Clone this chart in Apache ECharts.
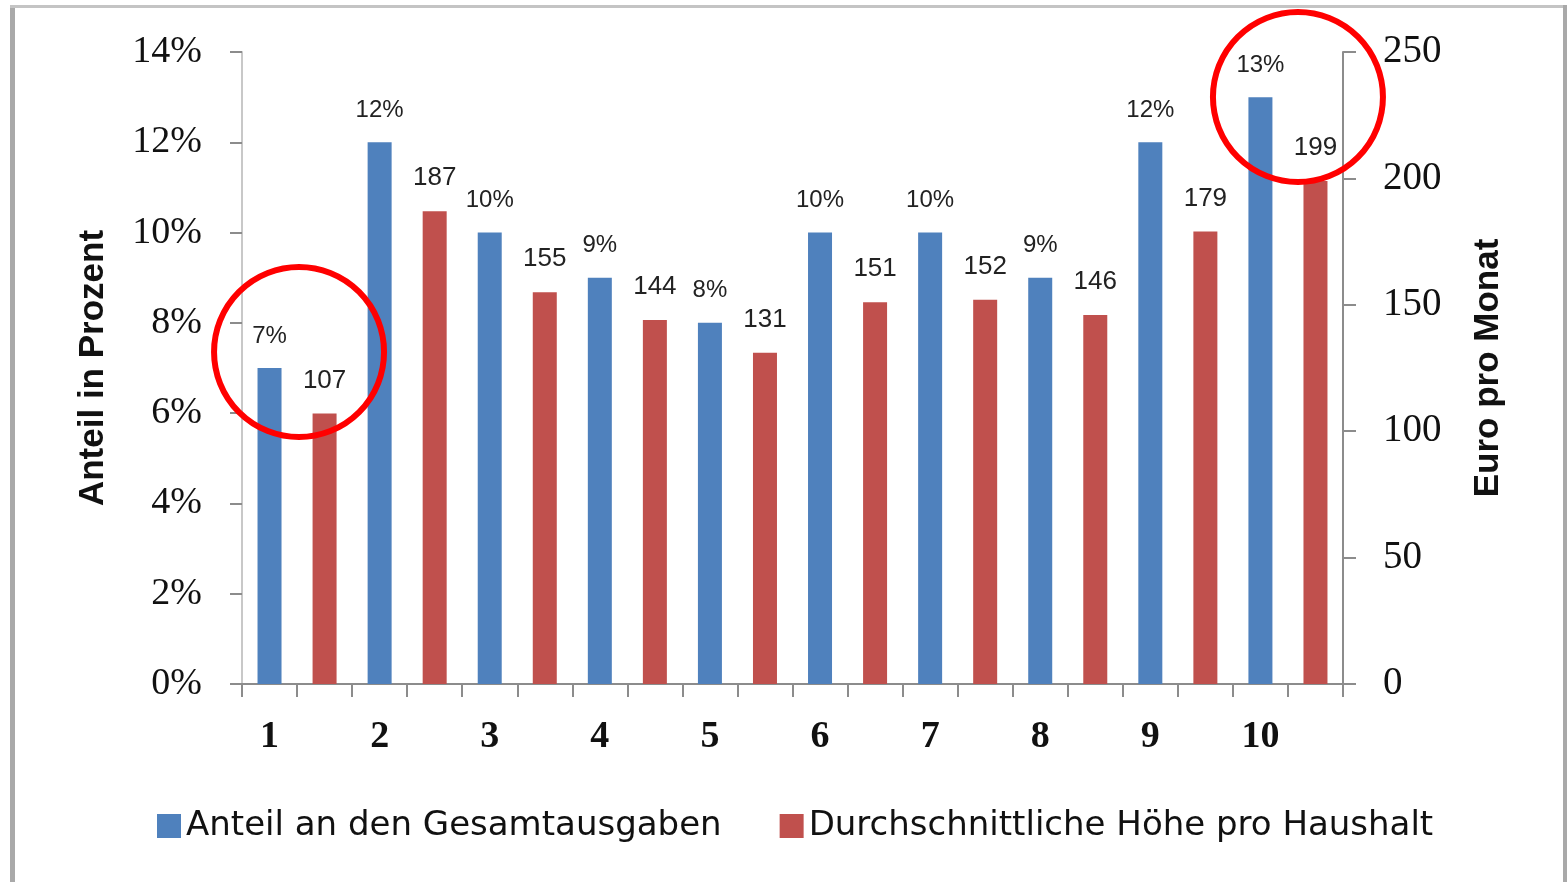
<!DOCTYPE html>
<html>
<head>
<meta charset="utf-8">
<script src="https://cdn.jsdelivr.net/npm/echarts@6/dist/echarts.min.js"></script>
<style>
  html, body { margin: 0; padding: 0; background: #fff; }
  #chart { width: 1567px; height: 882px; }
</style>
</head>
<body>
<div id="chart"></div>
<script>
// groups 1..10, each group has a blue slot and a red slot on the x axis
var groups = ['1', '2', '3', '4', '5', '6', '7', '8', '9', '10'];
var anteil = [7, 12, 10, 9, 8, 10, 10, 9, 12, 13];          // Anteil an den Gesamtausgaben, %
var hoehe = [107, 187, 155, 144, 131, 151, 152, 146, 179, 199]; // Euro pro Monat
var leftTicks = [0, 14, 2];   // min, max, interval
var rightTicks = [0, 250, 50];

var slots = [], blueData = [], redData = [];
groups.forEach(function (g, i) {
    slots.push(g, '');
    blueData.push(anteil[i], '-');
    redData.push('-', hoehe[i]);
});

var chart = echarts.init(document.getElementById('chart'));

var labelFont = 'Liberation Sans';
var tickFont = 'Liberation Serif';

var option = {
    animation: false,
    grid: { left: 242, right: 224, top: 52, bottom: 198 },
    legend: {
        left: 152,
        top: 804,
        itemWidth: 24,
        itemHeight: 24,
        itemGap: 58,
        icon: 'rect',
        textStyle: { fontFamily: 'DejaVu Sans', fontSize: 34, color: '#111' },
        data: ['Anteil an den Gesamtausgaben', 'Durchschnittliche Höhe pro Haushalt']
    },
    xAxis: {
        type: 'category',
        data: slots,
        axisLine: { lineStyle: { color: '#8c8c8c', width: 2 } },
        axisTick: { show: true, length: 13, interval: 0, lineStyle: { color: '#8c8c8c', width: 2 } },
        axisLabel: {
            interval: 0, margin: 34,
            fontFamily: tickFont, fontSize: 38, fontWeight: 'bold', color: '#111'
        }
    },
    yAxis: [{
        type: 'value',
        min: leftTicks[0], max: leftTicks[1], interval: leftTicks[2],
        name: 'Anteil in Prozent',
        nameLocation: 'middle',
        nameGap: 131,
        nameTextStyle: { fontFamily: labelFont, fontSize: 35, fontWeight: 'bold', color: '#111' },
        axisLine: { show: true, lineStyle: { color: '#c8c8c8', width: 2 } },
        axisTick: { show: true, length: 12, lineStyle: { color: '#8c8c8c', width: 2 } },
        splitLine: { show: false },
        axisLabel: {
            margin: 40,
            formatter: '{value}%',
            fontFamily: tickFont, fontSize: 38, color: '#111'
        }
    }, {
        type: 'value',
        position: 'right',
        min: rightTicks[0], max: rightTicks[1], interval: rightTicks[2],
        name: 'Euro pro Monat',
        nameLocation: 'middle',
        nameGap: 128,
        nameRotate: 90,
        nameTextStyle: { fontFamily: labelFont, fontSize: 35, fontWeight: 'bold', color: '#111' },
        axisLine: { show: true, lineStyle: { color: '#8c8c8c', width: 2 } },
        axisTick: { show: true, length: 13, lineStyle: { color: '#8c8c8c', width: 2 } },
        splitLine: { show: false },
        axisLabel: {
            margin: 40,
            fontFamily: tickFont, fontSize: 39, color: '#111'
        }
    }],
    series: [{
        name: 'Anteil an den Gesamtausgaben',
        type: 'bar',
        yAxisIndex: 0,
        data: blueData,
        barWidth: 24,
        barGap: '-100%',
        itemStyle: { color: '#4F81BD' },
        label: {
            show: true, position: 'top', distance: 20,
            formatter: '{c}%',
            fontFamily: labelFont, fontSize: 24, color: '#222'
        }
    }, {
        name: 'Durchschnittliche Höhe pro Haushalt',
        type: 'bar',
        yAxisIndex: 1,
        data: redData,
        barWidth: 24,
        barGap: '-100%',
        itemStyle: { color: '#C0504D' },
        label: {
            show: true, position: 'top', distance: 20,
            fontFamily: labelFont, fontSize: 26, color: '#222'
        }
    }]
};
chart.setOption(option);

// frame and the two highlight circles (around group 1 and group 10)
function groupX(i) {
    var a = chart.convertToPixel({ xAxisIndex: 0 }, i * 2);
    var b = chart.convertToPixel({ xAxisIndex: 0 }, i * 2 + 1);
    return (a + b) / 2;
}
chart.setOption({
    graphic: [
        { type: 'rect', shape: { x: 10, y: 5, width: 5, height: 877 }, style: { fill: '#a9a9a9' }, z: 100 },
        { type: 'rect', shape: { x: 10, y: 5, width: 1557, height: 3 }, style: { fill: '#c4c4c4' }, z: 100 },
        { type: 'rect', shape: { x: 1563, y: 5, width: 4, height: 877 }, style: { fill: '#a9a9a9' }, z: 100 },
        { type: 'circle', shape: { cx: groupX(0) + 2, cy: 352, r: 85 }, style: { fill: 'none', stroke: '#ff0000', lineWidth: 6 }, z: 100 },
        { type: 'circle', shape: { cx: groupX(9) + 10, cy: 97, r: 85 }, style: { fill: 'none', stroke: '#ff0000', lineWidth: 6 }, z: 100 }
    ]
});
</script>
</body>
</html>
